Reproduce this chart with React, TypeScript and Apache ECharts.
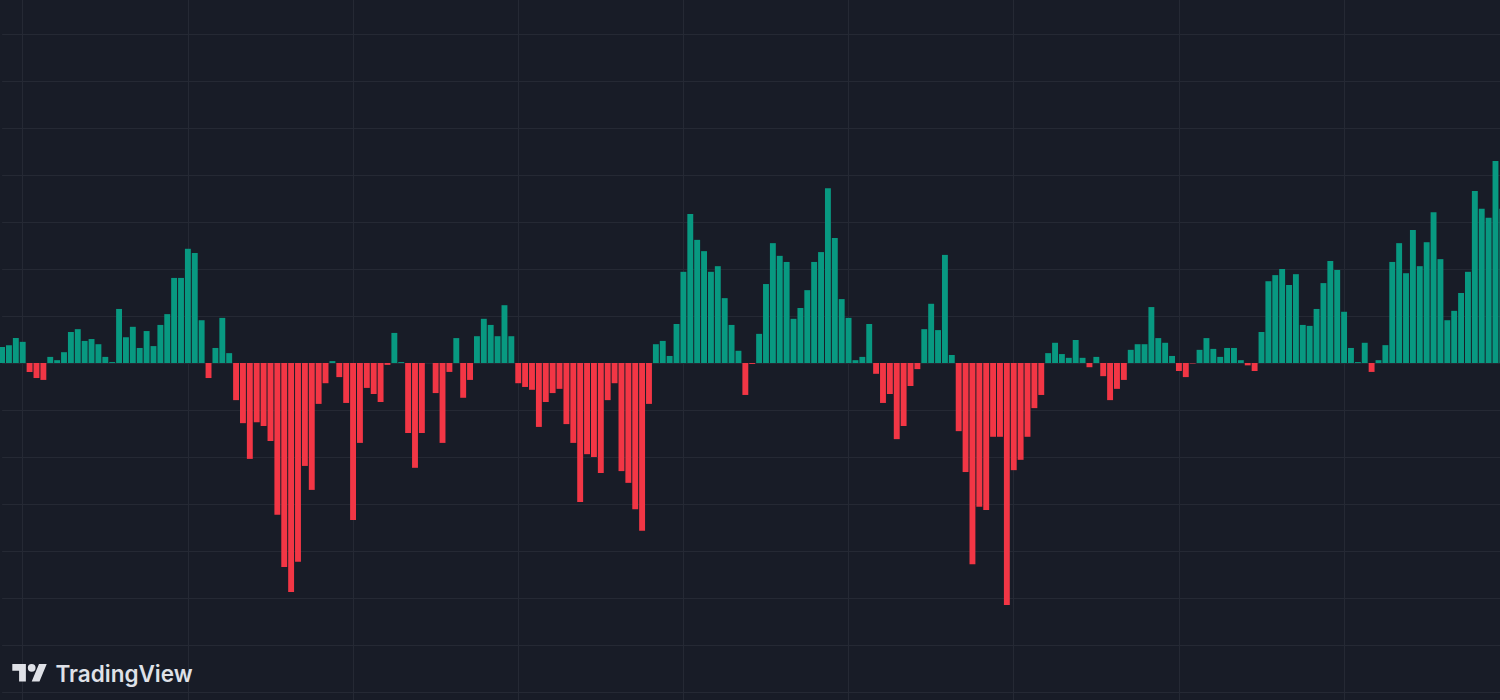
import React, { useEffect, useRef } from "react";
import * as echarts from "echarts";

// Histogram values (one grid step = 10 units)
const waveA = [3.4, 3.8, 5.3, 4.5, -1.9, -3.2, -3.6, 1.3, 0.6, 2.3, 6.6, 7.2, 4.7, 5.1, 4.0, 1.3, 0.2, 11.5, 5.5, 7.7, 3.2, 6.8, 3.6, 8.1, 10.4, 18.1, 18.1, 24.3, 23.4, 9.1, -3.2, 3.2, 9.6, 2.1, -7.9, -12.8, -20.4];
const waveB = [-12.6, -13.4, -16.6, -32.3, -43.4, -48.7, -42.3, -21.9, -27.0, -8.7, -4.3, 0.4, -3.0, -8.5, -33.4, -17.0, -5.3, -6.6, -8.3, -0.4, 6.4, 0.2, -14.9, -22.3, -14.9, 0, -6.4, -17.0, -1.9, 5.3, -7.4, -3.6, 5.7, 9.4, 8.1, 5.7, 12.3];
const waveC = [5.7, -4.3, -5.1, -5.7, -13.6, -8.3, -6.4, -5.5, -13.0, -17.0, -29.6, -19.4, -20.0, -23.4, -7.9, -4.3, -23.0, -25.5, -31.1, -35.7, -8.7, 4.0, 4.7, 1.5, 8.3, 19.4, 31.7, 26.2, 23.8, 19.4, 20.6, 13.8, 8.1, 2.6, -6.8, -0.2];
const waveD = [6.2, 16.8, 25.5, 22.8, 21.5, 9.4, 11.7, 15.5, 21.5, 23.6, 37.2, 26.6, 13.6, 9.6, 0.6, 1.3, 8.3, -2.3, -8.5, -6.6, -16.2, -13.4, -4.9, -1.3, 7.2, 12.6, 7.0, 23.0, 1.7, -14.5, -23.2, -42.8, -30.6, -31.3, -15.7, -15.7];
const waveE = [-51.5, -22.8, -20.6, -15.7, -9.6, -6.8, 2.1, 4.3, 1.9, 1.1, 4.9, 1.1, -0.9, 1.3, -2.8, -7.9, -5.5, -3.6, 2.8, 4.0, 4.0, 11.9, 5.3, 4.3, 1.5, -1.7, -3.0, -0.1, 2.8, 5.3, 3.0, 1.3, 3.2, 3.2, 0.6, -0.5, -1.7];
const waveF = [6.6, 17.4, 18.7, 20.0, 16.6, 18.9, 8.1, 7.9, 11.5, 17.0, 21.7, 19.8, 10.9, 3.2, 0.2, 4.3, -1.9, 0.6, 3.8, 21.5, 25.5, 19.1, 28.3, 20.6, 25.7, 32.1, 22.1, 9.1, 11.1, 14.9, 19.4, 36.6, 32.8, 30.9, 43.0, 32.8];

const histogram = [...waveA, ...waveB, ...waveC, ...waveD, ...waveE, ...waveF];
const categories = histogram.map((_, i) => String(i));

const UP = "#089981";
const DOWN = "#f23645";
const BG = "#181c27";
const GRID = "#252934";

const TV_LOGO =
  "M14 22H7V11H0V4h14v18zM28 22h-8l7.5-18h8L28 22zM24 8a4 4 0 1 1-8 0a4 4 0 1 1 8 0z";

// The chart canvas is taller/wider than the page and shifted up so that
// the outermost grid steps fall outside the visible 1500x700 area.
const SHIFT_Y = 13;
const CANVAS_W = 1505;
const CANVAS_H = 752;

let registered = false;

export default function App() {
  const ref = useRef<HTMLDivElement>(null);

  useEffect(() => {
    if (!ref.current) return;
    if (!registered) {
      echarts.graphic.registerShape("tvlogo", echarts.graphic.extendPath(TV_LOGO, {}) as any);
      registered = true;
    }
    const chart = echarts.init(ref.current, undefined, { renderer: "svg" });
    chart.setOption({
      animation: false,
      backgroundColor: BG,
      grid: { left: 2.07, right: 2.63, top: 0, bottom: 0, containLabel: false },
      xAxis: {
        type: "category",
        data: categories,
        boundaryGap: false,
        axisLine: { show: false },
        axisTick: { show: false },
        axisLabel: { show: false },
        splitLine: {
          show: true,
          interval: (index: number) => (index - 3) % 24 === 0,
          lineStyle: { color: GRID, width: 1 },
        },
      },
      yAxis: {
        type: "value",
        min: -80,
        max: 80,
        interval: 10,
        axisLine: { show: false },
        axisTick: { show: false },
        axisLabel: { show: false },
        splitLine: { show: true, lineStyle: { color: GRID, width: 1 } },
      },
      series: [
        {
          type: "bar",
          data: histogram,
          barWidth: 5.9,
          clip: false,
          itemStyle: {
            color: (p: any) => (p.value >= 0 ? UP : DOWN),
          },
        },
      ],
      graphic: [
        {
          type: "tvlogo",
          x: 12.3,
          y: 660.1 + SHIFT_Y,
          scaleX: 0.97,
          scaleY: 0.97,
          style: { fill: "#dfe1e7" },
          z: 100,
        },
        {
          type: "text",
          x: 55.5,
          y: 673 + SHIFT_Y,
          style: {
            text: "TradingView",
            fill: "#dfe1e7",
            font: "600 22.5px Inter, 'Noto Sans', sans-serif",
            verticalAlign: "middle",
            align: "left",
          },
          z: 100,
        },
      ],
    });
    return () => chart.dispose();
  }, []);

  return (
    <div
      style={{
        position: "fixed",
        left: 0,
        top: 0,
        width: 1500,
        height: 700,
        overflow: "hidden",
        background: BG,
      }}
    >
      <div
        ref={ref}
        style={{ position: "absolute", left: 0, top: -SHIFT_Y, width: CANVAS_W, height: CANVAS_H }}
      />
    </div>
  );
}
